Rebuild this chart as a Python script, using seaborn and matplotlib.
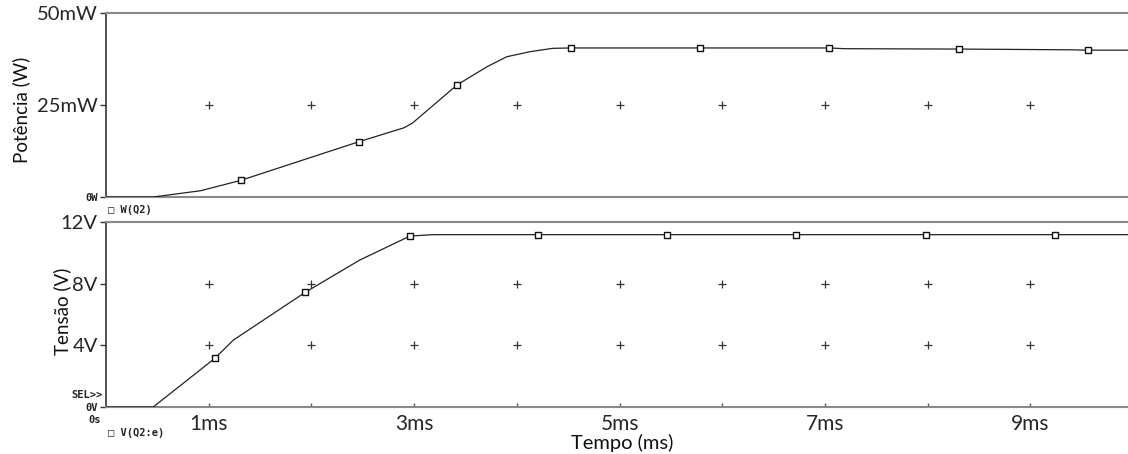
import numpy as np
import pandas as pd
import matplotlib
matplotlib.use("Agg")
import matplotlib.pyplot as plt
import seaborn as sns

# ---- data ----
power_t = [0.00, 0.46, 0.92, 1.31, 1.89, 2.46, 2.90, 2.98, 3.42, 3.71, 3.90, 4.13, 4.35, 4.53,
           5.00, 5.78, 7.04, 7.19, 8.30, 9.39, 9.56, 9.95]
power_mw = [0.0, 0.0, 1.7, 4.5, 9.8, 15.0, 18.8, 20.0, 30.5, 35.4, 38.1, 39.5, 40.4, 40.5,
            40.5, 40.5, 40.5, 40.3, 40.2, 40.0, 39.9, 39.9]
power_marker_t = [1.31, 2.46, 3.42, 4.53, 5.78, 7.04, 8.30, 9.56]

volt_t = [0.00, 0.46, 1.06, 1.24, 1.94, 2.47, 2.96, 3.19, 4.21, 5.46, 6.72, 7.98, 9.24, 9.95]
volt_v = [0.0, 0.0, 3.16, 4.34, 7.44, 9.53, 11.09, 11.18, 11.18, 11.18, 11.18, 11.18, 11.18, 11.18]
volt_marker_t = [1.06, 1.94, 2.96, 4.21, 5.46, 6.72, 7.98, 9.24]

x_grid_ms = [1, 2, 3, 4, 5, 6, 7, 8, 9]
x_tick_labels = ["1ms", "", "3ms", "", "5ms", "", "7ms", "", "9ms"]
power_grid = [25]
power_ticks = [0, 25, 50]
power_tick_labels = ["0W", "25mW", "50mW"]
volt_grid = [4, 8]
volt_ticks = [0, 4, 8, 12]
volt_tick_labels = ["0V", "4V", "8V", "12V"]

sns.set_theme(style="white")
plt.rcParams['font.family'] = ['Lato', 'DejaVu Sans']

W, H = 1128, 454
fig = plt.figure(figsize=(W / 100, H / 100), dpi=100)
x0 = 106 / W
wax = (W - 106) / W
ax1 = fig.add_axes([x0, 1 - 197 / H, wax, (197 - 13) / H])
ax2 = fig.add_axes([x0, 1 - 407 / H, wax, (407 - 222) / H])

mono = dict(family="DejaVu Sans Mono", fontsize=7.5, fontweight="bold", color="#222222")
XMAX = 9.95


def style(ax, ymax):
    ax.set_xlim(0, XMAX)
    ax.set_ylim(0, ymax)
    ax.set_facecolor("white")
    for s in ["top", "bottom"]:
        ax.spines[s].set_color("#8a8a8a")
        ax.spines[s].set_linewidth(1.5)
    ax.spines["left"].set_color("#333333")
    ax.spines["left"].set_linewidth(1.2)
    ax.spines["right"].set_visible(False)


def crosses(ax, ys):
    gx, gy = np.meshgrid(x_grid_ms, ys)
    g = pd.DataFrame({"x": gx.ravel(), "y": gy.ravel()})
    sns.scatterplot(data=g, x="x", y="y", ax=ax, marker="+", s=30, color="#333333",
                    linewidth=0.9, legend=False, zorder=2)


def trace(ax, t, y, mt):
    d = pd.DataFrame({"t": t, "y": y})
    sns.lineplot(data=d, x="t", y="y", ax=ax, color="#222222", linewidth=0.9,
                 sort=False, estimator=None, zorder=3)
    m = pd.DataFrame({"t": mt, "y": np.interp(mt, t, y)})
    sns.scatterplot(data=m, x="t", y="y", ax=ax, marker="s", s=22, facecolor="white",
                    edgecolor="#111111", linewidth=1.0, legend=False, zorder=4)


# ---- top: power ----
style(ax1, 50)
crosses(ax1, power_grid)
trace(ax1, power_t, power_mw, power_marker_t)
ax1.set_xticks([])
ax1.set_yticks(power_ticks)
ax1.set_yticklabels(power_tick_labels)
ax1.tick_params(axis="y", left=True, length=4, width=1, color="#333333", pad=2, labelsize=14.5)
ax1.get_yticklabels()[0].set(**mono)
ax1.set_xlabel("")
ax1.set_ylabel("Potência (W)", fontsize=13.5, color="#111111", va="center")
ax1.yaxis.set_label_coords(-0.083, 0.473)
ax1.text(0.002, -0.071, "\u25a1 W(Q2)", transform=ax1.transAxes, ha="left", va="center", **mono)

# ---- bottom: voltage ----
style(ax2, 12)
crosses(ax2, volt_grid)
trace(ax2, volt_t, volt_v, volt_marker_t)
ax2.set_xticks(x_grid_ms)
ax2.set_xticklabels(x_tick_labels)
ax2.tick_params(axis="x", bottom=True, direction="in", length=3, width=1, color="#555555",
                pad=5, labelsize=15)
ax2.set_yticks(volt_ticks)
ax2.set_yticklabels(volt_tick_labels)
ax2.tick_params(axis="y", left=True, length=4, width=1, color="#333333", pad=2, labelsize=14.5)
ax2.get_yticklabels()[0].set(**mono)
ax2.set_ylabel("Tensão (V)", fontsize=13.5, color="#111111", va="center")
ax2.yaxis.set_label_coords(-0.043, 0.519)
ax2.set_xlabel("Tempo (ms)", fontsize=14.5, color="#111111", va="center")
ax2.xaxis.set_label_coords(0.505, -0.195)
ax2.text(-0.003, 0.065, "SEL>>", transform=ax2.transAxes, ha="right", va="center", **mono)
ax2.text(-0.0176, -0.07, "0s", transform=ax2.transAxes, ha="left", va="center", **mono)
ax2.text(0.002, -0.14, "\u25a1 V(Q2:e)", transform=ax2.transAxes, ha="left", va="center", **mono)

fig.savefig("out.png", dpi=100, facecolor="white")
